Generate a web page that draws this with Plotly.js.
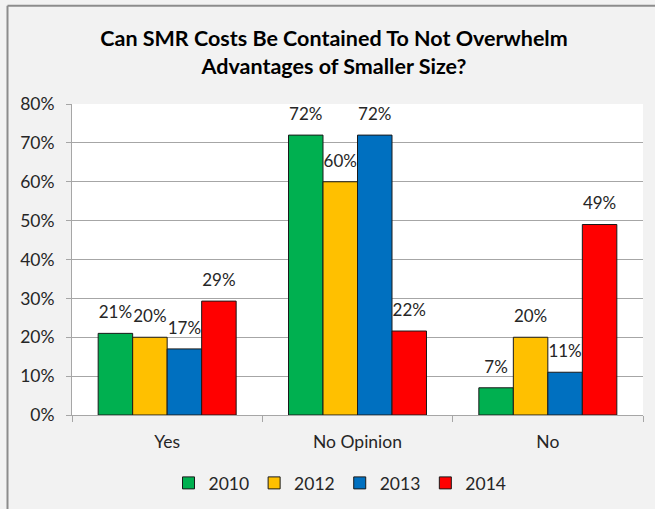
<!DOCTYPE html>
<html>
<head>
<meta charset="utf-8">
<script src="https://cdn.plot.ly/plotly-3.0.1.min.js"></script>
<style>
  html, body { margin: 0; padding: 0; background: #f2f2f2; }
  #chart { width: 655px; height: 509px; }
</style>
</head>
<body>
<div id="chart"></div>
<script>
const categories = ["Yes", "No Opinion", "No"];
const seriesNames = ["2010", "2012", "2013", "2014"];
const values2010 = [21, 72, 7];
const values2012 = [20, 60, 20];
const values2013 = [17, 72, 11];
const values2014 = [29.3, 21.6, 49];
const seriesColors = ["#00b050", "#ffc000", "#0070c0", "#ff0000"];
const yTickVals = [0, 10, 20, 30, 40, 50, 60, 70, 80];

const allValues = [values2010, values2012, values2013, values2014];
const font = "Lato, 'Open Sans', sans-serif";

const barTraces = allValues.map((vals, i) => ({
  type: "bar",
  name: seriesNames[i],
  x: categories,
  y: vals,
  offsetgroup: "g" + i,
  marker: { color: seriesColors[i], line: { color: "#1a1a1a", width: 1 } },
  hoverinfo: "skip"
}));

const labelTraces = allValues.map((vals, i) => ({
  type: "scatter",
  mode: "markers+text",
  name: seriesNames[i] + " labels",
  showlegend: false,
  x: categories,
  y: vals,
  offsetgroup: "g" + i,
  marker: { size: 16, opacity: 0, color: seriesColors[i] },
  text: vals.map(v => Math.round(v) + "%"),
  textposition: "top center",
  textfont: { family: font, size: 17, color: "#262626" },
  cliponaxis: false,
  hoverinfo: "skip"
}));

const layout = {
  width: 655,
  height: 509,
  paper_bgcolor: "#f2f2f2",
  plot_bgcolor: "#ffffff",
  margin: { l: 72, r: 12, t: 103.5, b: 94, pad: 0 },
  barmode: "group",
  scattermode: "group",
  bargap: 0.275,
  scattergap: 0.275,
  bargroupgap: 0,
  title: {
    text: "<b>Can SMR Costs Be Contained To Not Overwhelm<br>Advantages of Smaller Size?</b>",
    font: { family: font, size: 21.5, color: "#000000" },
    x: 334 / 655,
    xanchor: "center",
    xref: "container",
    y: 1 - 46 / 509,
    yanchor: "top",
    yref: "container"
  },
  xaxis: {
    type: "category",
    tickson: "boundaries",
    ticks: "outside",
    ticklen: 6,
    tickcolor: "#a6a6a6",
    showline: true,
    linecolor: "#a6a6a6",
    linewidth: 1,
    showgrid: false,
    tickfont: { family: font, size: 17.5, color: "#262626" },
    ticklabelstandoff: 11,
    fixedrange: true
  },
  yaxis: {
    range: [0, 80],
    tickvals: yTickVals,
    ticktext: yTickVals.map(v => v + "%"),
    ticks: "outside",
    ticklen: 5,
    tickcolor: "#a6a6a6",
    showline: true,
    linecolor: "#a6a6a6",
    linewidth: 1,
    showgrid: true,
    gridcolor: "#a6a6a6",
    gridwidth: 1,
    zeroline: false,
    tickfont: { family: font, size: 17.5, color: "#262626" },
    ticklabelstandoff: 8,
    fixedrange: true
  },
  legend: {
    orientation: "h",
    x: 340 / 655,
    xanchor: "center",
    xref: "container",
    y: 1 - 465 / 509,
    yanchor: "top",
    yref: "container",
    font: { family: font, size: 17.5, color: "#262626" },
    bgcolor: "rgba(0,0,0,0)",
    itemwidth: 30,
    traceorder: "normal"
  },
  shapes: [
    {
      type: "line", xref: "paper", yref: "paper",
      x0: (7.5 - 72) / 571, x1: (7.5 - 72) / 571,
      y0: (415 - 509) / 311.5 - 0.2, y1: (415 - 5) / 311.5,
      line: { color: "#8c8c8c", width: 2 }
    },
    {
      type: "line", xref: "paper", yref: "paper",
      x0: (7.5 - 72) / 571, x1: 1.2,
      y0: (415 - 5) / 311.5, y1: (415 - 5) / 311.5,
      line: { color: "#8c8c8c", width: 2 }
    }
  ],
  showlegend: true
};

Plotly.newPlot("chart", barTraces.concat(labelTraces), layout, { displayModeBar: false, staticPlot: true });
</script>
</body>
</html>
